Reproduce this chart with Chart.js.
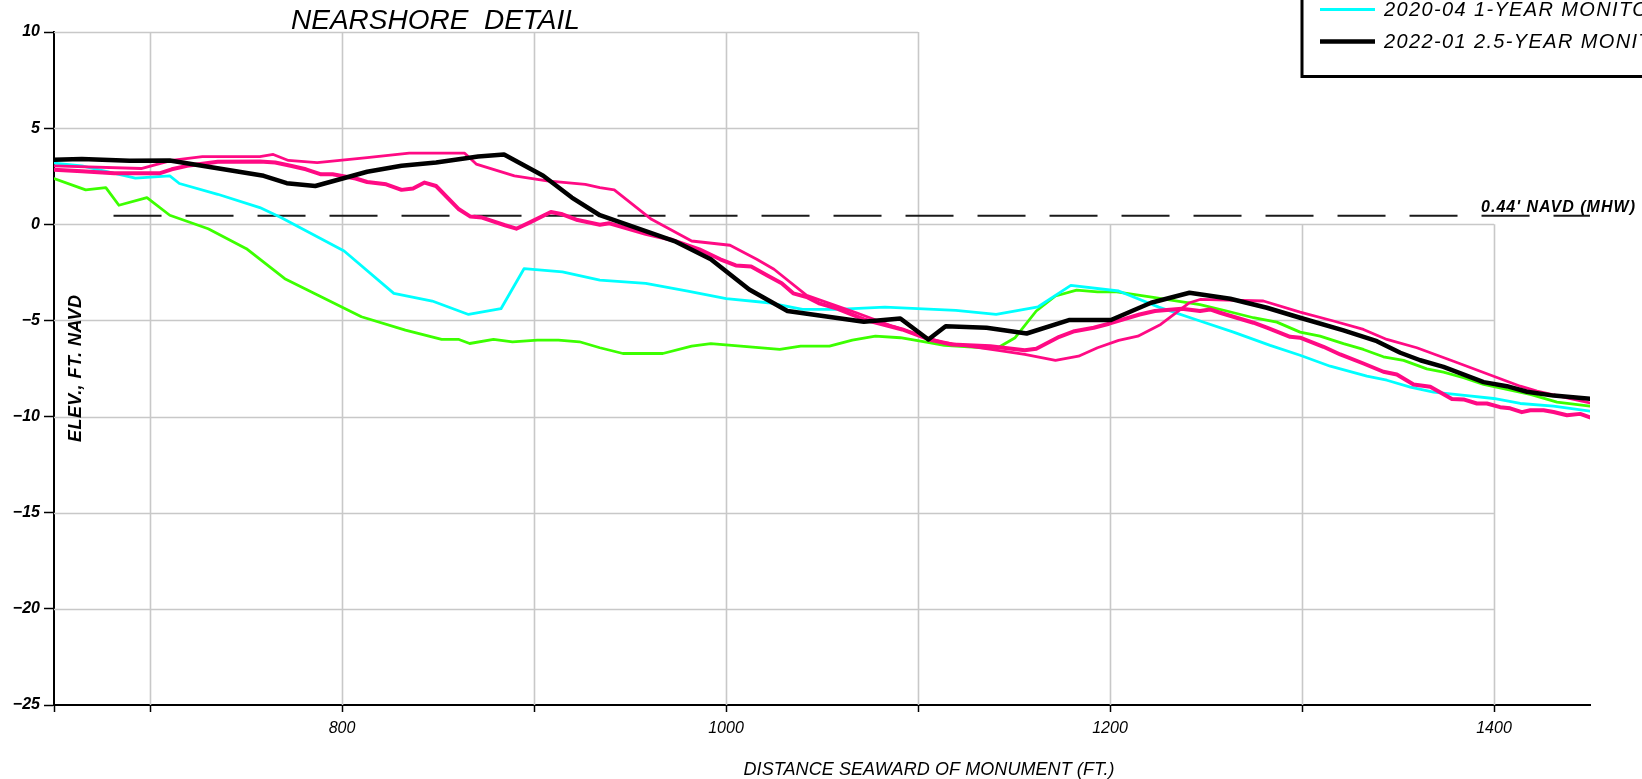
<!DOCTYPE html>
<html>
<head>
<meta charset="utf-8">
<script src="https://cdn.jsdelivr.net/npm/chart.js@4.4.1/dist/chart.umd.min.js"></script>
<style>
  html, body { margin: 0; padding: 0; background: #fff; }
  #wrap { position: relative; width: 1642px; height: 779px; }
</style>
</head>
<body>
<div id="wrap"><canvas id="profile"></canvas></div>
<script>
// Beach profile surveys: distance seaward of monument (ft) vs elevation (ft NAVD)

const X_MIN = 650, X_MAX = 1450, Y_MIN = -25, Y_MAX = 10;
const xTickValues = [650, 700, 800, 900, 1000, 1100, 1200, 1300, 1400];
const xTickLabels = [800, 1000, 1200, 1400];
const yTickValues = [10, 5, 0, -5, -10, -15, -20, -25];

// grid is L-shaped: upper rows stop at 1100 where the legend block sits
const fullGridX = [700, 800, 900, 1000, 1100];
const lowerGridX = [1200, 1300, 1400];
const upperGridY = [10, 5];
const lowerGridY = [0, -5, -10, -15, -20];
const upperGridRight = 1100;
const lowerGridRight = 1400;
const lowerGridTop = 0;

// mean high water reference
const mhwElevation = 0.44;
const mhwExtent = [681, 1450];

const legendLabels = ['2020-04 1-YEAR MONITORING', '2022-01 2.5-YEAR MONITORING'];

const surveyGreen = [[650,2.38],[666.5,1.79],[677,1.91],[683.8,0.99],[698.4,1.39],[710.3,0.47],[730.3,-0.23],[750.2,-1.27],[770.2,-2.83],[789.1,-3.77],[810.1,-4.81],[833,-5.5],[851.9,-5.99],[860.9,-5.99],[866.5,-6.2],[878.9,-5.99],[888.8,-6.11],[901.8,-6.02],[912.7,-6.02],[923.7,-6.11],[934.3,-6.42],[946.3,-6.72],[967.1,-6.72],[982.1,-6.34],[992.1,-6.21],[1028,-6.51],[1038.9,-6.34],[1053.9,-6.34],[1065.8,-6.02],[1077.8,-5.82],[1090.8,-5.9],[1105.8,-6.16],[1113.7,-6.3],[1140.7,-6.47],[1150.6,-5.9],[1161.6,-4.51],[1171.6,-3.73],[1182.6,-3.42],[1193.5,-3.51],[1203.5,-3.51],[1223.4,-3.82],[1246.9,-4.18],[1260.8,-4.51],[1274.7,-4.86],[1286.9,-5.09],[1299,-5.61],[1309.4,-5.82],[1321.6,-6.21],[1332,-6.51],[1342.4,-6.89],[1352.9,-7.08],[1365,-7.52],[1373.7,-7.69],[1384.1,-7.98],[1394.6,-8.33],[1406.7,-8.59],[1418.9,-8.85],[1432.8,-9.25],[1450,-9.46]];

const surveyCyan = [[650,3.18],[664.5,3.04],[692.4,2.4],[710.3,2.52],[715.3,2.12],[735.3,1.56],[757.2,0.87],[768.2,0.35],[801.1,-1.39],[827,-3.59],[847,-3.99],[865.9,-4.69],[882.8,-4.39],[894.8,-2.31],[914.8,-2.48],[934.3,-2.9],[958.2,-3.07],[980.1,-3.47],[1000.1,-3.87],[1022,-4.08],[1039.9,-4.43],[1057.9,-4.43],[1082.8,-4.31],[1119.7,-4.48],[1140.7,-4.69],[1162.6,-4.29],[1179.6,-3.18],[1204.5,-3.47],[1225.4,-4.31],[1246.9,-5.03],[1264.3,-5.61],[1283.4,-6.3],[1299,-6.81],[1314.7,-7.38],[1333.8,-7.9],[1344.2,-8.11],[1356.4,-8.47],[1368.5,-8.73],[1385.9,-8.91],[1399.8,-9.06],[1413.7,-9.32],[1431,-9.46],[1450,-9.72]];

const surveyPinkA = [[650,3.04],[695.4,2.9],[711.3,3.32],[727.3,3.52],[757.2,3.52],[764.2,3.63],[772.1,3.32],[787.1,3.21],[813.1,3.47],[835,3.7],[863.9,3.7],[869.9,3.13],[889.8,2.52],[906.8,2.26],[926.7,2.08],[934.3,1.91],[941.8,1.79],[961.2,0.26],[982.1,-0.87],[1002.1,-1.09],[1016,-1.82],[1025,-2.34],[1042,-3.7],[1067.9,-4.6],[1086.8,-5.3],[1104.8,-5.9],[1113.7,-6.16],[1141.7,-6.56],[1155.6,-6.77],[1171.6,-7.08],[1183.6,-6.86],[1193.5,-6.42],[1204.5,-6.04],[1214.5,-5.82],[1226.4,-5.21],[1241.4,-4.08],[1246.9,-3.91],[1279.9,-3.99],[1299,-4.57],[1316.4,-5.03],[1332,-5.47],[1344.2,-5.99],[1359.8,-6.42],[1378.9,-7.12],[1399.8,-7.9],[1413.7,-8.42],[1422.4,-8.68],[1438,-9.03],[1450,-9.29]];

const surveyPinkB = [[650,2.83],[664.5,2.76],[681.4,2.66],[705.3,2.66],[711.3,2.86],[719.3,3.04],[735.3,3.25],[757.2,3.27],[765.2,3.21],[773.2,3.04],[781.2,2.86],[789.1,2.6],[795.1,2.6],[807.1,2.38],[813.1,2.2],[823,2.08],[831,1.79],[837,1.86],[843,2.17],[849,1.99],[860.9,0.78],[866.9,0.4],[872.9,0.35],[884.9,-0.05],[890.8,-0.23],[896.8,0.05],[908.8,0.64],[914.8,0.52],[922.7,0.22],[934.3,-0.02],[939.3,0.05],[958.2,-0.49],[972.2,-0.82],[986.1,-1.3],[997,-1.82],[1005.1,-2.14],[1013.1,-2.2],[1022,-2.69],[1029,-3.07],[1035,-3.59],[1042,-3.78],[1048.9,-4.13],[1057.9,-4.39],[1071.9,-4.95],[1091.8,-5.47],[1105.8,-5.99],[1117.7,-6.25],[1137.7,-6.34],[1155.6,-6.55],[1161.6,-6.47],[1173.6,-5.85],[1181.5,-5.56],[1191.5,-5.38],[1199.5,-5.17],[1215.4,-4.69],[1223.4,-4.51],[1237.4,-4.39],[1246.9,-4.51],[1252.1,-4.43],[1257.3,-4.6],[1274.7,-5.12],[1281.7,-5.38],[1293.8,-5.85],[1299,-5.9],[1311.2,-6.37],[1319.9,-6.77],[1332,-7.24],[1342.4,-7.67],[1349.4,-7.81],[1358.1,-8.33],[1366.8,-8.45],[1378.1,-9.08],[1384.1,-9.11],[1391.1,-9.32],[1396.3,-9.32],[1403.2,-9.51],[1408.4,-9.57],[1414.5,-9.77],[1418.9,-9.67],[1425.8,-9.67],[1431,-9.76],[1438,-9.93],[1444.9,-9.86],[1450,-10.04]];

const surveyBlack = [[650,3.35],[664.5,3.4],[689.4,3.3],[710.3,3.32],[759.2,2.52],[771.2,2.14],[786.1,1.99],[813.1,2.73],[831,3.04],[849,3.21],[870.9,3.52],[884.4,3.63],[904.8,2.52],[919.7,1.39],[934.3,0.47],[973.1,-0.87],[992.1,-1.82],[1012.1,-3.39],[1032,-4.51],[1071.8,-5.07],[1090.8,-4.9],[1105.4,-5.99],[1114.4,-5.3],[1135.7,-5.38],[1156.6,-5.68],[1178.6,-4.98],[1200.5,-4.98],[1221.4,-4.08],[1241.4,-3.56],[1262.6,-3.87],[1281.7,-4.34],[1299,-4.86],[1321.6,-5.52],[1339,-6.08],[1351.2,-6.68],[1361.6,-7.07],[1373.7,-7.42],[1394.6,-8.21],[1406.7,-8.42],[1417.2,-8.71],[1431,-8.91],[1450,-9.08]];

const toPoints = arr => arr.map(([x, y]) => ({ x, y }));
const FONT = '"Liberation Sans", Arial, sans-serif';

const COLOR_PINK = '#ff0a84';
const COLOR_GREEN = '#3cff00';
const COLOR_CYAN = '#00ffff';

const datasets = [
  { label: legendLabels[1], data: toPoints(surveyBlack), borderColor: '#000000', borderWidth: 4.5, showInLegend: true },
  { label: 'Survey B', data: toPoints(surveyPinkB), borderColor: COLOR_PINK, borderWidth: 4 },
  { label: 'Survey A', data: toPoints(surveyPinkA), borderColor: COLOR_PINK, borderWidth: 2.8 },
  { label: legendLabels[0], data: toPoints(surveyCyan), borderColor: COLOR_CYAN, borderWidth: 2.8, showInLegend: true },
  { label: 'Survey C', data: toPoints(surveyGreen), borderColor: COLOR_GREEN, borderWidth: 2.8 },
  { label: 'MHW', data: toPoints(mhwExtent.map(x => [x, mhwElevation])), borderColor: '#1a1a1a', borderWidth: 2, borderDash: [48, 24], borderCapStyle: 'butt' }
];

// partial grid drawn under the profiles
const gridPlugin = {
  id: 'profileGrid',
  beforeDatasetsDraw(chart) {
    const { ctx, scales: { x, y } } = chart;
    ctx.save();
    ctx.strokeStyle = '#c8c8c8';
    ctx.lineWidth = 1.6;
    ctx.beginPath();
    fullGridX.forEach(v => {
      const px = Math.round(x.getPixelForValue(v)) + 0.5;
      ctx.moveTo(px, y.getPixelForValue(Y_MAX));
      ctx.lineTo(px, y.getPixelForValue(Y_MIN));
    });
    lowerGridX.forEach(v => {
      const px = Math.round(x.getPixelForValue(v)) + 0.5;
      ctx.moveTo(px, y.getPixelForValue(lowerGridTop));
      ctx.lineTo(px, y.getPixelForValue(Y_MIN));
    });
    upperGridY.forEach(v => {
      const py = Math.round(y.getPixelForValue(v)) + 0.5;
      ctx.moveTo(x.getPixelForValue(X_MIN), py);
      ctx.lineTo(x.getPixelForValue(upperGridRight), py);
    });
    lowerGridY.forEach(v => {
      const py = Math.round(y.getPixelForValue(v)) + 0.5;
      ctx.moveTo(x.getPixelForValue(X_MIN), py);
      ctx.lineTo(x.getPixelForValue(lowerGridRight), py);
    });
    ctx.stroke();
    ctx.restore();
  }
};

function drawFitted(ctx, text, x, y, width, font) {
  ctx.font = font;
  ctx.letterSpacing = '0px';
  const w = ctx.measureText(text).width;
  const ls = Math.max(0, (width - w) / (text.length - 1));
  ctx.letterSpacing = ls + 'px';
  ctx.fillText(text, x, y);
  ctx.letterSpacing = '0px';
}

// titles, MHW note and the legend block in the upper right
const annotationPlugin = {
  id: 'profileText',
  afterDraw(chart) {
    const { ctx, scales: { x, y } } = chart;
    ctx.save();
    ctx.fillStyle = '#000';
    ctx.textAlign = 'left';
    ctx.textBaseline = 'alphabetic';

    drawFitted(ctx, 'NEARSHORE  DETAIL', 291, 28.5, 279, `italic 400 28px ${FONT}`);

    const mhwY = y.getPixelForValue(mhwElevation);
    drawFitted(ctx, "0.44' NAVD (MHW)", 1481, mhwY - 3.5, 154, `italic 700 16px ${FONT}`);

    drawFitted(ctx, 'DISTANCE SEAWARD OF MONUMENT (FT.)', 743.5, 775, 371, `italic 400 18px ${FONT}`);

    ctx.save();
    ctx.translate(81, 442);
    ctx.rotate(-Math.PI / 2);
    drawFitted(ctx, 'ELEV., FT. NAVD', 0, 0, 147, `italic 700 18px ${FONT}`);
    ctx.restore();

    // legend block (runs off the top and right edges)
    ctx.strokeStyle = '#000';
    ctx.lineWidth = 3;
    ctx.beginPath();
    ctx.moveTo(1302, -5);
    ctx.lineTo(1302, 76.5);
    ctx.lineTo(1660, 76.5);
    ctx.stroke();

    const legendFont = `italic 400 20px ${FONT}`;
    ctx.font = legendFont;
    ctx.letterSpacing = '0px';
    const probe = '2022-01 2.5-YEAR MONI';
    const ls = Math.max(0, (253 - ctx.measureText(probe).width) / (probe.length - 1));
    const rows = chart.data.datasets.filter(d => d.showInLegend)
      .sort((a, b) => legendLabels.indexOf(a.label) - legendLabels.indexOf(b.label));
    const rowY = [9.5, 41.5];
    rows.forEach((d, i) => {
      ctx.strokeStyle = d.borderColor;
      ctx.lineWidth = d.borderWidth;
      ctx.setLineDash([]);
      ctx.beginPath();
      ctx.moveTo(1320, rowY[i]);
      ctx.lineTo(1375, rowY[i]);
      ctx.stroke();
      ctx.font = legendFont;
      ctx.letterSpacing = ls + 'px';
      ctx.fillText(d.label, 1384, rowY[i] + 6.5);
    });
    ctx.restore();
  }
};

new Chart(document.getElementById('profile'), {
  type: 'line',
  data: { datasets },
  options: {
    responsive: true,
    maintainAspectRatio: false,
    animation: false,
    layout: { padding: { top: 32, right: 52, left: 0, bottom: 0 } },
    plugins: { legend: { display: false }, title: { display: false }, tooltip: { enabled: false } },
    elements: {
      point: { radius: 0 },
      line: { tension: 0, borderJoinStyle: 'round', borderCapStyle: 'round', fill: false }
    },
    scales: {
      x: {
        type: 'linear', min: X_MIN, max: X_MAX,
        afterBuildTicks: s => { s.ticks = xTickValues.map(v => ({ value: v })); },
        afterFit: s => { s.height = 74; },
        ticks: {
          autoSkip: false, maxRotation: 0, padding: 7, color: '#000',
          font: { family: FONT, size: 16, style: 'italic' },
          callback: v => xTickLabels.includes(v) ? String(v) : ''
        },
        grid: { drawOnChartArea: false, drawTicks: true, tickLength: 7, tickColor: '#000', tickWidth: 1.5 },
        border: { display: true, color: '#000', width: 2 }
      },
      y: {
        type: 'linear', min: Y_MIN, max: Y_MAX,
        afterBuildTicks: s => { s.ticks = yTickValues.map(v => ({ value: v })); },
        afterFit: s => { s.width = 54; },
        ticks: {
          padding: 4, color: '#000',
          font: { family: FONT, size: 16, style: 'italic', weight: 'bold' },
          callback: v => v < 0 ? '\u2212' + Math.abs(v) : String(v)
        },
        grid: { drawOnChartArea: false, drawTicks: true, tickLength: 10, tickColor: '#000', tickWidth: 1.5 },
        border: { display: true, color: '#000', width: 2 }
      }
    }
  },
  plugins: [gridPlugin, annotationPlugin]
});
</script>
</body>
</html>
